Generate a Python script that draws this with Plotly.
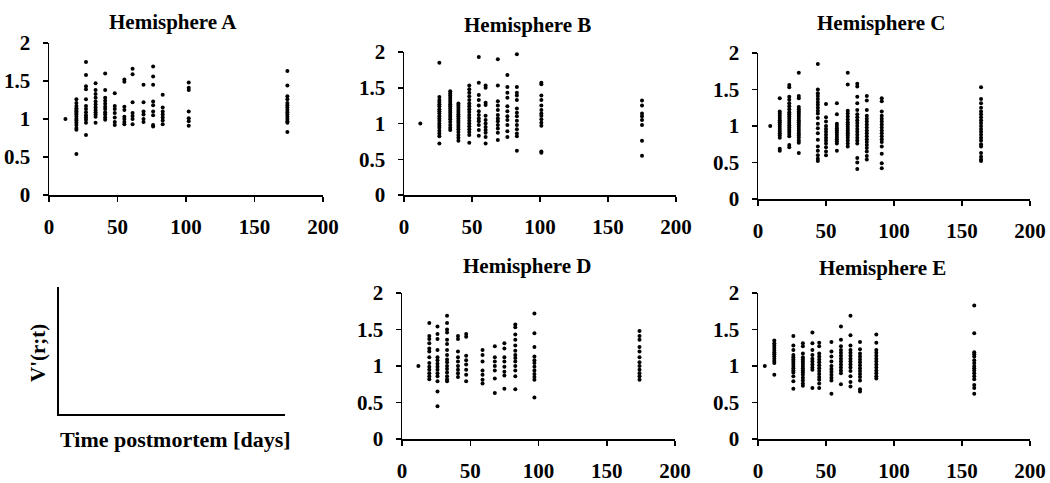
import plotly.graph_objects as go

# ---------------- data (days postmortem, V'(r;t) values per day) ----------------
A_days = [12, 20, 27, 34, 41, 48, 55, 61, 69, 76, 83, 102, 174]
A_vals = [
    [1.0],
    [1.26, 1.21, 1.17, 1.14, 1.12, 1.1, 1.08, 1.06, 1.03, 1.0, 0.98, 0.95, 0.92, 0.88, 0.86, 0.54],
    [1.75, 1.58, 1.43, 1.39, 1.26, 1.17, 1.13, 1.09, 1.05, 1.02, 0.99, 0.95, 0.79],
    [1.47, 1.38, 1.33, 1.28, 1.23, 1.19, 1.15, 1.12, 1.09, 1.06, 1.03, 0.95],
    [1.6, 1.38, 1.28, 1.24, 1.2, 1.16, 1.13, 1.09, 1.06, 1.02, 0.99],
    [1.34, 1.17, 1.13, 1.08, 1.02, 0.96, 0.92],
    [1.52, 1.49, 1.16, 1.12, 1.03, 1.0, 0.96, 0.93],
    [1.66, 1.59, 1.22, 1.08, 1.04, 1.0, 0.93],
    [1.45, 1.22, 1.1, 1.06, 1.0, 0.96],
    [1.69, 1.56, 1.45, 1.23, 1.18, 1.1, 1.05, 0.92, 0.9],
    [1.32, 1.15, 1.1, 1.06, 1.02, 0.98, 0.93],
    [1.48, 1.41, 1.38, 1.1, 1.01, 0.97, 0.91],
    [1.63, 1.44, 1.3, 1.26, 1.21, 1.18, 1.15, 1.12, 1.09, 1.06, 1.03, 1.0, 0.97, 0.95, 0.83],
]

B_days = [12, 26, 34, 40, 48, 55, 60, 69, 76, 83, 101, 175]
B_vals = [
    [1.0],
    [1.85, 1.37, 1.33, 1.3, 1.27, 1.24, 1.2, 1.17, 1.14, 1.1, 1.07, 1.04, 1.0, 0.97, 0.94, 0.9, 0.86, 0.82, 0.72],
    [1.45, 1.42, 1.39, 1.36, 1.33, 1.3, 1.27, 1.24, 1.21, 1.18, 1.15, 1.12, 1.09, 1.06, 1.02, 0.98, 0.94, 0.91],
    [1.28, 1.25, 1.22, 1.19, 1.16, 1.13, 1.1, 1.07, 1.04, 1.01, 0.98, 0.95, 0.92, 0.88, 0.84, 0.8, 0.76],
    [1.53, 1.48, 1.43, 1.38, 1.33, 1.28, 1.24, 1.2, 1.16, 1.12, 1.08, 1.04, 1.0, 0.96, 0.92, 0.88, 0.84, 0.73],
    [1.93, 1.57, 1.4, 1.33, 1.25, 1.17, 1.12, 1.07, 1.03, 0.98, 0.91, 0.83],
    [1.53, 1.5, 1.29, 1.26, 1.11, 1.05, 1.0, 0.95, 0.91, 0.87, 0.81, 0.72],
    [1.9, 1.53, 1.31, 1.25, 1.19, 1.12, 1.07, 1.03, 0.98, 0.93, 0.87, 0.77],
    [1.68, 1.51, 1.43, 1.36, 1.24, 1.17, 1.1, 1.05, 0.98, 0.89, 0.81],
    [1.97, 1.51, 1.43, 1.39, 1.33, 1.21, 1.15, 1.1, 1.04, 0.98, 0.92, 0.86, 0.82, 0.62],
    [1.57, 1.55, 1.39, 1.33, 1.25, 1.19, 1.14, 1.11, 1.06, 1.01, 0.97, 0.61, 0.59],
    [1.32, 1.25, 1.14, 1.1, 1.05, 0.98, 0.76, 0.55],
]

C_days = [9, 16, 23, 30, 44, 50, 58, 66, 73, 80, 91, 164]
C_vals = [
    [1.0],
    [1.38, 1.2, 1.17, 1.14, 1.11, 1.08, 1.05, 1.02, 0.99, 0.96, 0.93, 0.9, 0.87, 0.84, 0.69, 0.66],
    [1.56, 1.53, 1.4, 1.36, 1.31, 1.27, 1.23, 1.19, 1.16, 1.13, 1.1, 1.07, 1.04, 1.01, 0.98, 0.95, 0.92, 0.89, 0.86, 0.74, 0.71],
    [1.73, 1.41, 1.38, 1.26, 1.23, 1.2, 1.17, 1.14, 1.11, 1.08, 1.05, 1.02, 0.99, 0.96, 0.93, 0.9, 0.87, 0.84, 0.8, 0.77, 0.63],
    [1.85, 1.5, 1.45, 1.41, 1.37, 1.33, 1.29, 1.25, 1.21, 1.17, 1.11, 1.03, 0.97, 0.9, 0.81, 0.72, 0.66, 0.6, 0.55, 0.52],
    [1.3, 1.12, 1.06, 1.0, 0.96, 0.92, 0.88, 0.84, 0.8, 0.76, 0.71, 0.65, 0.6],
    [1.31, 1.16, 1.03, 1.0, 0.97, 0.94, 0.91, 0.88, 0.85, 0.82, 0.79, 0.76, 0.66],
    [1.73, 1.57, 1.21, 1.17, 1.13, 1.09, 1.05, 1.02, 0.99, 0.96, 0.93, 0.9, 0.87, 0.84, 0.8, 0.76, 0.72],
    [1.58, 1.54, 1.4, 1.31, 1.22, 1.16, 1.12, 1.08, 1.04, 1.0, 0.96, 0.92, 0.88, 0.84, 0.8, 0.76, 0.56, 0.5, 0.41],
    [1.41, 1.35, 1.22, 1.14, 1.1, 1.06, 1.02, 0.98, 0.94, 0.9, 0.86, 0.82, 0.78, 0.74, 0.7, 0.65, 0.59, 0.54],
    [1.38, 1.34, 1.2, 1.14, 1.1, 1.06, 1.02, 0.98, 0.94, 0.9, 0.86, 0.82, 0.78, 0.72, 0.62, 0.49, 0.42],
    [1.53, 1.37, 1.31, 1.25, 1.2, 1.16, 1.12, 1.08, 1.04, 1.0, 0.96, 0.92, 0.88, 0.84, 0.8, 0.75, 0.72, 0.63, 0.58, 0.54, 0.52],
]

D_days = [12, 20, 26, 33, 41, 47, 59, 68, 75, 83, 97, 174]
D_vals = [
    [1.0],
    [1.59, 1.41, 1.37, 1.31, 1.24, 1.2, 1.12, 1.04, 0.99, 0.95, 0.9, 0.86, 0.82],
    [1.54, 1.44, 1.37, 1.22, 1.12, 1.08, 1.03, 0.99, 0.95, 0.9, 0.86, 0.79, 0.65, 0.45],
    [1.69, 1.59, 1.5, 1.46, 1.36, 1.3, 1.22, 1.15, 1.09, 1.05, 1.0, 0.96, 0.91, 0.86, 0.82, 0.79],
    [1.41, 1.37, 1.2, 1.12, 1.06, 1.0, 0.95, 0.9, 0.85],
    [1.44, 1.4, 1.14, 1.08, 1.02, 0.95, 0.88, 0.79],
    [1.22, 1.15, 1.06, 0.94, 0.88, 0.81, 0.76],
    [1.27, 1.12, 1.06, 1.0, 0.94, 0.83, 0.63],
    [1.31, 1.24, 1.12, 1.06, 0.99, 0.92, 0.87, 0.69],
    [1.57, 1.53, 1.43, 1.36, 1.28, 1.21, 1.15, 1.11, 1.06, 1.0, 0.94, 0.86, 0.68],
    [1.72, 1.45, 1.26, 1.13, 1.08, 1.04, 0.99, 0.94, 0.89, 0.85, 0.81, 0.57],
    [1.48, 1.41, 1.36, 1.26, 1.2, 1.12, 1.05, 1.0, 0.95, 0.9, 0.86, 0.81],
]

E_days = [5, 12, 26, 33, 40, 45, 54, 61, 68, 75, 87, 159]
E_vals = [
    [1.0],
    [1.35, 1.31, 1.28, 1.25, 1.22, 1.19, 1.16, 1.13, 1.1, 1.07, 1.04, 0.88],
    [1.41, 1.28, 1.22, 1.15, 1.12, 1.09, 1.06, 1.03, 1.0, 0.97, 0.94, 0.91, 0.86, 0.79, 0.69],
    [1.31, 1.27, 1.17, 1.12, 1.09, 1.06, 1.03, 1.0, 0.97, 0.94, 0.91, 0.88, 0.84, 0.8, 0.76, 0.73],
    [1.46, 1.31, 1.22, 1.15, 1.1, 1.06, 1.02, 0.98, 0.95, 0.7],
    [1.32, 1.27, 1.17, 1.13, 1.09, 1.05, 1.01, 0.97, 0.93, 0.89, 0.85, 0.81, 0.76, 0.7],
    [1.33, 1.2, 1.13, 1.06, 1.0, 0.96, 0.92, 0.88, 0.84, 0.8, 0.62],
    [1.54, 1.36, 1.27, 1.22, 1.18, 1.14, 1.1, 1.06, 1.02, 0.98, 0.94, 0.9, 0.75],
    [1.69, 1.42, 1.28, 1.22, 1.18, 1.14, 1.1, 1.06, 1.02, 0.98, 0.93, 0.86, 0.78, 0.72],
    [1.33, 1.23, 1.17, 1.13, 1.09, 1.05, 1.01, 0.97, 0.93, 0.89, 0.85, 0.8, 0.68, 0.65],
    [1.43, 1.32, 1.22, 1.18, 1.14, 1.1, 1.06, 1.02, 0.98, 0.94, 0.9, 0.86, 0.83],
    [1.83, 1.45, 1.19, 1.16, 1.13, 1.08, 1.04, 1.0, 0.97, 0.94, 0.9, 0.86, 0.82, 0.74, 0.7, 0.62],
]

titles = ["Hemisphere A", "Hemisphere B", "Hemisphere C", "Hemisphere D", "Hemisphere E"]
x_ticks = [0, 50, 100, 150, 200]
y_ticks = [0, 0.5, 1, 1.5, 2]

# ---------------- layout helpers ----------------
W, H = 1050, 483
FONT = "Liberation Serif"


def xd(a, b):
    return [a / W, b / W]


def yd(top, bottom):
    return [1 - bottom / H, 1 - top / H]


# panel boxes in pixels: (x_left, x_right, y_top, y_bottom)
boxes = [
    (49, 323, 43, 195),
    (404, 676, 52, 195),
    (758, 1030, 53, 199),
    (402, 675, 293, 439),
    (758, 1030, 293, 439),
]
title_pos = [(173, 22), (527, 25), (881, 23), (527, 266), (882, 268)]

datasets = [(A_days, A_vals), (B_days, B_vals), (C_days, C_vals), (D_days, D_vals), (E_days, E_vals)]

fig = go.Figure()
layout = dict(
    width=W, height=H, margin=dict(l=0, r=0, t=0, b=0, pad=0, autoexpand=False),
    paper_bgcolor="white", plot_bgcolor="white", showlegend=False,
    font=dict(family=FONT, color="black"),
)

tickfont = dict(family=FONT, size=21, color="black", weight="bold")
annotations = []

for i, ((days, vals), box, title) in enumerate(zip(datasets, boxes, titles)):
    n = i + 1
    xs, ys = [], []
    for d, col in zip(days, vals):
        for v in col:
            xs.append(d)
            ys.append(v)
    xa = "x" if n == 1 else f"x{n}"
    ya = "y" if n == 1 else f"y{n}"
    fig.add_trace(go.Scatter(
        x=xs, y=ys, mode="markers", xaxis=xa, yaxis=ya,
        marker=dict(size=4, color="black"), cliponaxis=False,
    ))
    xl, xr, yt, yb = box
    xkey = "xaxis" if n == 1 else f"xaxis{n}"
    ykey = "yaxis" if n == 1 else f"yaxis{n}"
    layout[xkey] = dict(
        domain=xd(xl, xr), range=[0, 200], anchor=ya, tickvals=x_ticks,
        showline=True, linecolor="black", linewidth=1.5, ticks="outside",
        ticklen=5, tickwidth=1.5, tickcolor="black", showgrid=False, zeroline=False,
        tickfont=tickfont, ticklabelstandoff=7, automargin=False,
    )
    layout[ykey] = dict(
        domain=yd(yt, yb), range=[0, 2], anchor=xa, tickvals=y_ticks,
        showline=True, linecolor="black", linewidth=1.5, ticks="outside",
        ticklen=5, tickwidth=1.5, tickcolor="black", showgrid=False, zeroline=False,
        tickfont=tickfont, ticklabelstandoff=8, automargin=False,
    )
    tx, ty = title_pos[i]
    annotations.append(dict(
        text=title, x=tx / W, y=1 - ty / H, xref="paper", yref="paper",
        xanchor="center", yanchor="middle", showarrow=False,
        font=dict(family=FONT, size=21, color="black", weight="bold"),
    ))

# schematic key panel (axes only)
fig.add_trace(go.Scatter(x=[], y=[], xaxis="x6", yaxis="y6", mode="markers"))
layout["xaxis6"] = dict(
    domain=xd(59, 285), range=[0, 1], anchor="y6", showline=True, linecolor="black",
    linewidth=2, showticklabels=False, ticks="", showgrid=False, zeroline=False,
    automargin=False,
)
layout["yaxis6"] = dict(
    domain=yd(287, 414), range=[0, 1], anchor="x6", showline=True, linecolor="black",
    linewidth=2, showticklabels=False, ticks="", showgrid=False, zeroline=False,
    automargin=False,
)
annotations.append(dict(
    text="V'(r;t)", x=38 / W, y=1 - 353 / H, xref="paper", yref="paper",
    xanchor="center", yanchor="middle", textangle=-90, showarrow=False,
    font=dict(family=FONT, size=21, color="black", weight="bold"),
))
annotations.append(dict(
    text="Time postmortem [days]", x=175 / W, y=1 - 439 / H, xref="paper", yref="paper",
    xanchor="center", yanchor="middle", showarrow=False,
    font=dict(family=FONT, size=22, color="black", weight="bold"),
))

layout["annotations"] = annotations
fig.update_layout(**layout)
fig.write_html(
    "out.html",
    config={"displayModeBar": False, "staticPlot": True},
    post_script="document.body.style.margin='0';document.body.style.overflow='hidden';",
)
